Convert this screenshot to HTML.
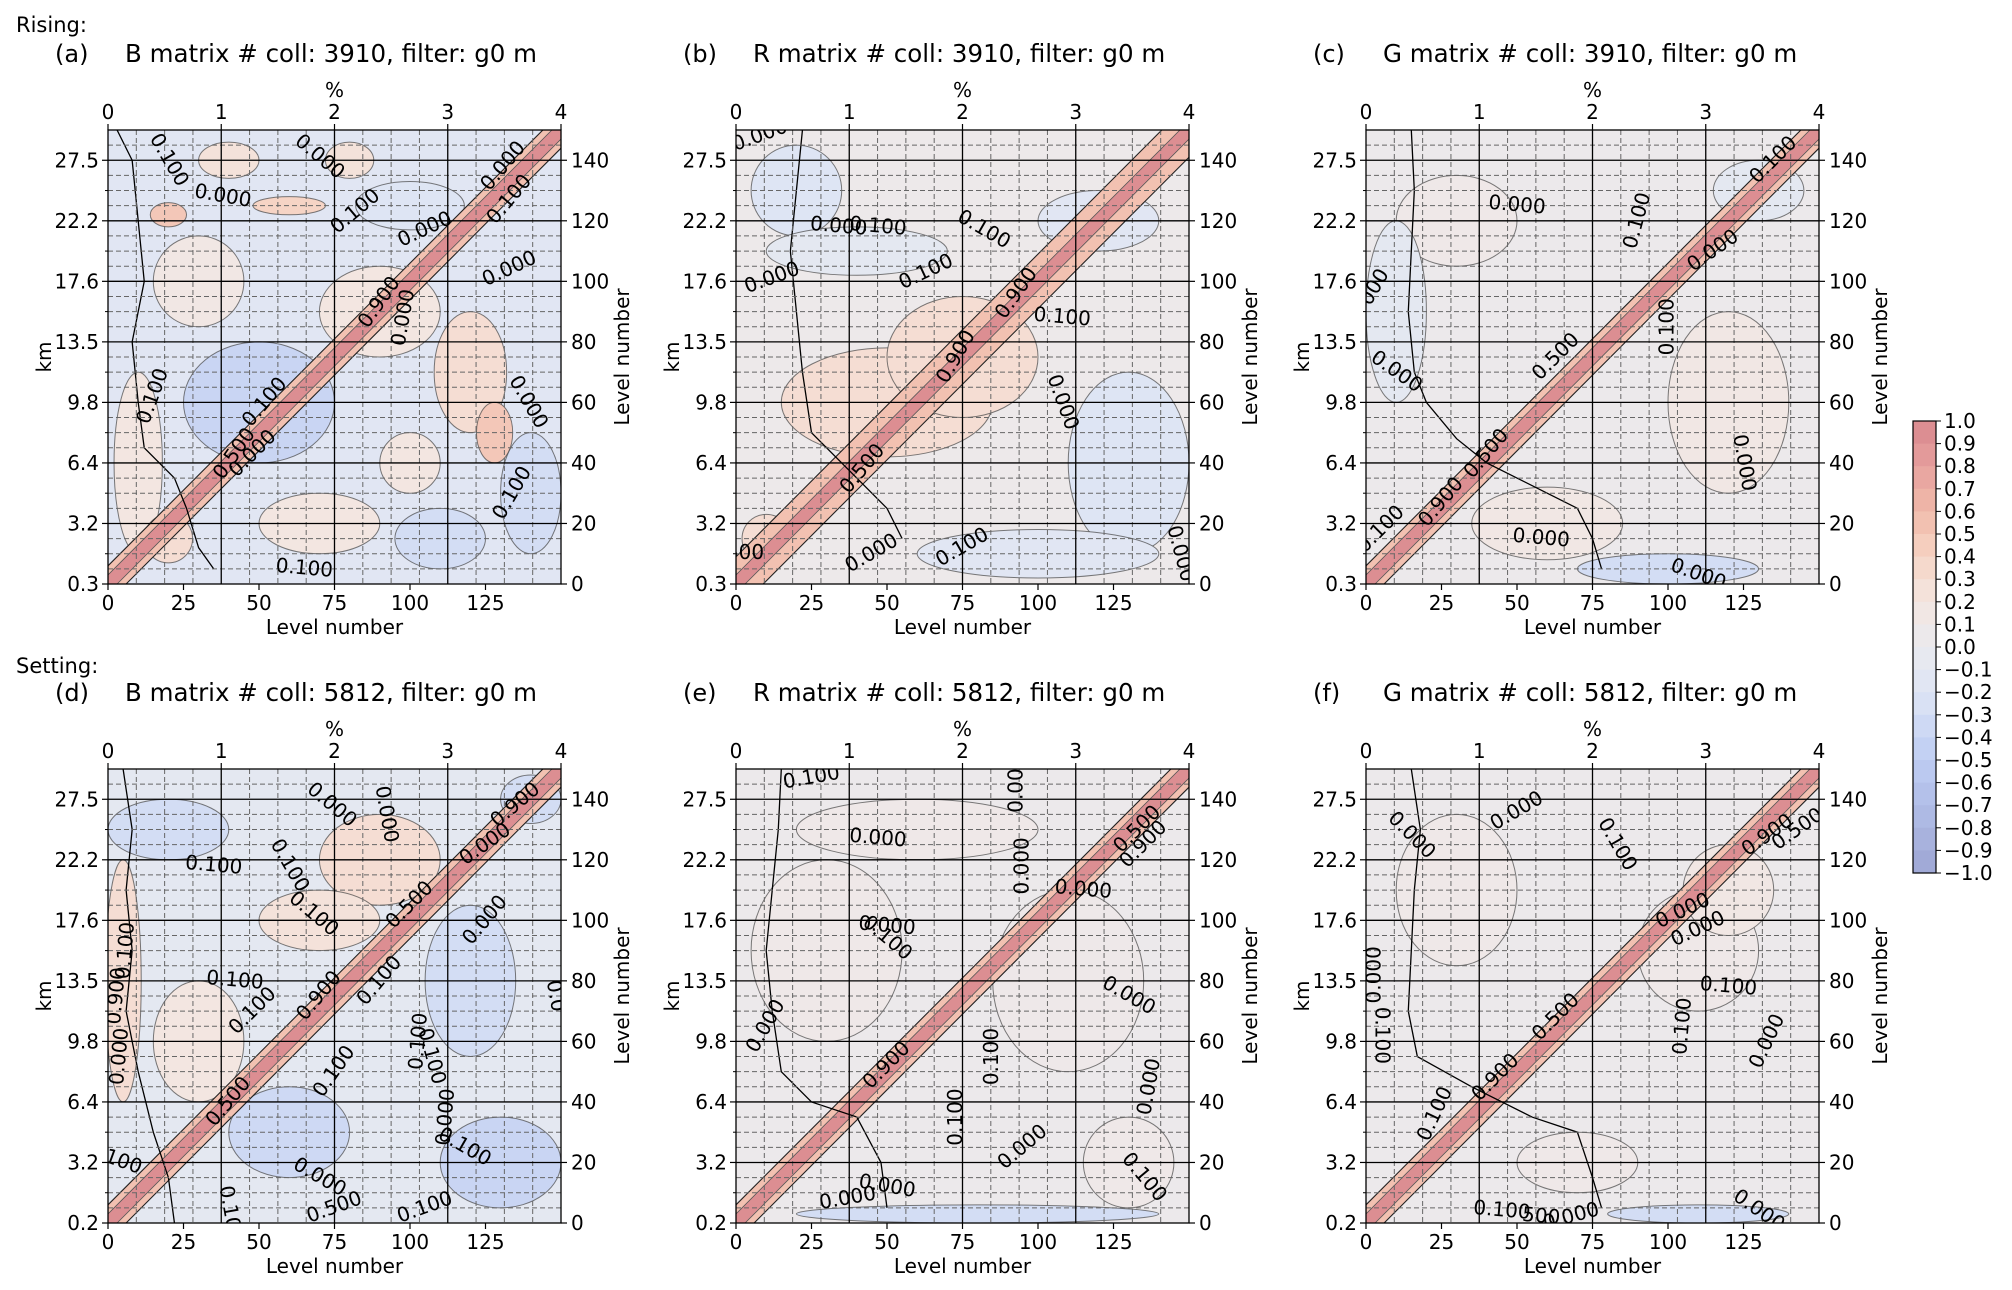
<!DOCTYPE html>
<html><head><meta charset="utf-8"><style>
html,body{margin:0;padding:0;background:#fff;}
svg{display:block;font-family:"DejaVu Sans","Liberation Sans",sans-serif;}
</style></head><body>
<svg id="fig" width="2012" height="1290" viewBox="0 0 2012 1290" xmlns="http://www.w3.org/2000/svg"></svg>
<script>
// ---- data ----
const panelIds = ["a","b","c","d","e","f"];
const panelTitles = ["B matrix # coll: 3910, filter: g0 m","R matrix # coll: 3910, filter: g0 m","G matrix  # coll: 3910, filter: g0 m",
 "B matrix # coll: 5812, filter: g0 m","R matrix # coll: 5812, filter: g0 m","G matrix  # coll: 5812, filter: g0 m"];
const kmLabelsRising = ["0.3","3.2","6.4","9.8","13.5","17.6","22.2","27.5"];
const kmLabelsSetting = ["0.2","3.2","6.4","9.8","13.5","17.6","22.2","27.5"];
const levelTicks = [0,20,40,60,80,100,120,140];
const bottomTicks = [0,25,50,75,100,125];
const pctTicks = [0,1,2,3,4];
const baseValues = [-0.15, 0.06, 0.04, -0.1, 0.05, 0.05];
const bandWidths = [3, 3, 3, 3, 3, 3];
const haloWidths = [6, 9, 6, 6, 6, 6];
// blobs: [x level, y level, rx, ry, value]
const blobsA = [[60,125,12,3,0.4],[20,122,6,4,0.5],[50,60,25,20,-0.4],[70,20,20,10,0.2],[120,70,12,20,0.3],[128,50,6,10,0.5],[10,40,8,30,0.2],[100,125,18,8,-0.2],[90,90,20,15,0.2],[140,30,10,20,-0.3],[30,100,15,15,0.15],[110,15,15,10,-0.3],[40,140,10,6,0.25],[80,140,8,6,0.25],[100,40,10,10,0.2],[20,15,8,8,0.3]];
const blobsB = [[50,60,35,18,0.3],[75,75,25,20,0.3],[130,40,20,30,-0.2],[20,130,15,15,-0.2],[120,120,20,10,-0.15],[10,15,8,8,0.3],[100,10,40,8,-0.15],[40,110,30,8,-0.1]];
const blobsC = [[30,120,20,15,0.1],[120,60,20,30,0.15],[60,20,25,12,0.15],[100,5,30,5,-0.3],[10,90,10,30,-0.1],[130,130,15,10,-0.1]];
const blobsD = [[20,130,20,10,-0.3],[60,30,20,15,-0.35],[120,80,15,25,-0.3],[90,120,20,15,0.3],[30,60,15,20,0.2],[130,20,20,15,-0.4],[70,100,20,10,0.25],[140,140,10,8,-0.3],[5,80,6,40,0.3]];
const blobsE = [[30,90,25,30,0.1],[110,80,25,30,0.08],[60,130,40,10,0.1],[80,3,60,3,-0.3],[130,20,15,15,0.1]];
const blobsF = [[30,110,20,25,0.1],[110,90,20,20,0.1],[70,20,20,10,0.1],[110,3,30,3,-0.3],[120,110,15,15,0.15]];
const panelBlobs = [blobsA,blobsB,blobsC,blobsD,blobsE,blobsF];
// black contour line near the left (levels): [x, y]
const lineA = [[3,150],[8,140],[10,120],[12,100],[8,80],[10,60],[12,45],[22,35],[26,25],[30,12],[35,5]];
const lineB = [[22,150],[20,130],[18,110],[20,90],[22,70],[25,50],[45,30],[50,25],[55,15]];
const lineC = [[15,150],[16,130],[15,110],[14,90],[16,70],[20,60],[30,48],[40,40],[60,30],[70,25],[75,15],[78,5]];
const lineD = [[5,150],[8,130],[6,110],[8,90],[6,70],[10,50],[15,30],[20,15],[22,0]];
const lineE = [[15,150],[14,130],[12,110],[10,90],[12,70],[15,50],[25,40],[40,35],[48,20],[50,5]];
const lineF = [[15,150],[18,130],[16,110],[15,90],[14,70],[17,55],[35,45],[55,35],[70,30],[75,15],[78,5]];
const panelLines = [lineA,lineB,lineC,lineD,lineE,lineF];
// contour labels: [x level, y level, rotation deg, text]
const labA = [[20,140,60,"0.100"],[70,141,40,"0.000"],[38,128,10,"0.000"],[82,123,-40,"0.100"],[105,117,-25,"0.000"],[131,138,-50,"0.000"],[133,127,-50,"0.100"],[133,104,-25,"0.000"],[98,88,-80,"0.000"],[90,93,-55,"0.900"],[15,62,-70,"0.100"],[52,60,-50,"0.100"],[42,43,-55,"0.500"],[48,43,-45,"0.000"],[139,60,60,"0.000"],[134,30,-60,"0.100"],[65,5,5,"0.100"]];
const labB = [[8,148,-20,"0.000"],[47,118,5,"0.100"],[34,118,5,"0.000"],[82,117,30,"0.100"],[63,103,-25,"0.100"],[12,101,-20,"0.000"],[93,96,-55,"0.900"],[73,75,-60,"0.900"],[108,88,5,"0.100"],[108,60,70,"0.000"],[42,38,-50,"0.500"],[45,10,-30,"0.000"],[75,12,-30,"0.100"],[3,10,0,"500"],[147,10,75,"0.000"]];
const labC = [[50,125,5,"0.000"],[90,120,-75,"0.100"],[115,110,-35,"0.000"],[135,140,-45,"0.100"],[3,98,-60,"000"],[10,70,35,"0.000"],[100,85,-90,"0.100"],[63,75,-45,"0.500"],[40,43,-50,"0.500"],[25,27,-50,"0.900"],[5,18,-45,"0.100"],[125,40,80,"0.000"],[58,15,5,"0.000"],[110,3,20,"0.000"]];
const labD = [[74,138,40,"0.000"],[92,135,80,"0.000"],[135,138,-40,"0.900"],[125,125,-35,"0.000"],[35,118,5,"0.100"],[60,118,60,"0.100"],[68,102,40,"0.100"],[100,105,-45,"0.500"],[125,100,-50,"0.000"],[6,90,-85,"0.100"],[3,75,-85,"0.900"],[42,80,5,"0.100"],[48,70,-45,"0.100"],[70,75,-50,"0.900"],[90,80,-50,"0.100"],[103,60,-85,"0.100"],[107,55,75,"0.100"],[75,50,-55,"0.100"],[112,35,-85,"0.000"],[118,25,30,"0.100"],[40,40,-50,"0.500"],[4,55,-85,"0.000"],[5,20,20,"100"],[70,15,30,"0.000"],[75,5,-20,"0.500"],[105,5,-20,"0.100"],[40,5,80,"0.10"],[148,75,80,"0.0"]];
const labE = [[25,147,-10,"0.100"],[47,127,5,"0.000"],[93,145,-90,"0.000"],[95,118,-90,"0.000"],[133,130,-45,"0.500"],[135,125,-45,"0.900"],[115,110,5,"0.000"],[50,98,5,"0.000"],[50,94,40,"0.100"],[130,75,30,"0.000"],[10,65,-60,"0.000"],[85,55,-90,"0.100"],[50,52,-45,"0.900"],[137,45,-80,"0.000"],[73,35,-90,"0.100"],[95,25,-40,"0.000"],[50,12,10,"0.000"],[37,8,-10,"0.000"],[135,15,50,"0.100"]];
const labF = [[50,136,-30,"0.000"],[15,128,45,"0.000"],[83,125,60,"0.100"],[133,128,-35,"0.900"],[143,130,-35,"0.500"],[105,103,-25,"0.000"],[110,97,-25,"0.000"],[120,78,5,"0.100"],[3,82,-90,"0.000"],[5,62,90,"0.100"],[105,65,-85,"0.100"],[133,60,-65,"0.000"],[63,68,-45,"0.500"],[43,48,-45,"0.900"],[23,36,-65,"0.100"],[45,4,5,"0.100"],[58,2,5,"500"],[68,2,-15,"0.000"],[130,4,35,"0.000"]];
const panelLabels = [labA,labB,labC,labD,labE,labF];
const cbTicks = ["1.0","0.9","0.8","0.7","0.6","0.5","0.4","0.3","0.2","0.1","0.0","−0.1","−0.2","−0.3","−0.4","−0.5","−0.6","−0.7","−0.8","−0.9","−1.0"];
const cbLevels = [1.0,0.9,0.8,0.7,0.6,0.5,0.4,0.3,0.2,0.1,0.0,-0.1,-0.2,-0.3,-0.4,-0.5,-0.6,-0.7,-0.8,-0.9];

// ---- rendering ----
const NS = "http://www.w3.org/2000/svg";
const svg = document.getElementById("fig");
function mk(tag, attrs, parent){const e=document.createElementNS(NS,tag);for(const k in attrs)e.setAttribute(k,attrs[k]);(parent||svg).appendChild(e);return e;}
function txt(x,y,s,size,anchor,parent,extra){const t=mk("text",Object.assign({x:x,y:y,"font-size":size,"text-anchor":anchor||"middle",fill:"#000"},extra||{}),parent);t.textContent=s;return t;}
function cmap(v){
  const stops=[[-1,[158,166,212]],[-0.5,[190,205,243]],[-0.2,[222,229,244]],[0,[234,234,238]],[0.2,[243,230,225]],[0.4,[246,212,197]],[0.6,[240,186,170]],[0.8,[230,160,158]],[1,[216,136,142]]];
  v=Math.max(-1,Math.min(1,v));
  for(let i=1;i<stops.length;i++){if(v<=stops[i][0]){const a=stops[i-1],b=stops[i];const t=(v-a[0])/(b[0]-a[0]);const c=a[1].map((q,j)=>Math.round(q+(b[1][j]-q)*t));return "rgb("+c.join(",")+")";}}
  return "rgb(216,136,142)";
}
const txt0 = mk("text",{x:16,y:32,"font-size":21,fill:"#000"});txt0.textContent="Rising:";


const txt1 = mk("text",{x:16,y:673,"font-size":21,fill:"#000"});txt1.textContent="Setting:";



const lefts=[108,736,1366], tops=[130,769], W=453, H=454;
panelIds.forEach((id,p)=>{
  const L=lefts[p%3], T=tops[Math.floor(p/3)], B=T+H, R=L+W;
  const xs=v=>L+v/150*W, ys=v=>B-v/150*H;
  const g=mk("g",{});
  
  
  const cid="clip"+id;
  const cp=mk("clipPath",{id:cid},g);mk("rect",{x:L,y:T,width:W,height:H},cp);
  const plot=mk("g",{"clip-path":"url(#"+cid+")"},g);
  
  
  mk("rect",{x:L,y:T,width:W,height:H,fill:cmap(baseValues[p])},plot);
  panelBlobs[p].forEach(b=>{
    const e=mk("ellipse",{cx:xs(b[0]),cy:ys(b[1]),rx:b[2]/150*W,ry:b[3]/150*H,fill:cmap(b[4]),stroke:"#444","stroke-width":1,"stroke-opacity":0.7},plot);
    
    
  });
  const hw=haloWidths[p], bw=bandWidths[p];
  const halo=mk("polygon",{points:[[xs(0),ys(0)],[xs(hw),ys(0)],[xs(150),ys(150-hw)],[xs(150),ys(150)],[xs(150-hw),ys(150)],[xs(0),ys(hw)]].map(q=>q.join(",")).join(" "),fill:cmap(0.55),stroke:"#222","stroke-width":1.1},plot);
  
  
  const band=mk("polygon",{points:[[xs(0),ys(0)],[xs(bw),ys(0)],[xs(150),ys(150-bw)],[xs(150),ys(150)],[xs(150-bw),ys(150)],[xs(0),ys(bw)]].map(q=>q.join(",")).join(" "),fill:cmap(0.95),stroke:"#555","stroke-width":0.8},plot);
  
  
  const pl=mk("polyline",{points:panelLines[p].map(q=>xs(q[0])+","+ys(q[1])).join(" "),fill:"none",stroke:"#000","stroke-width":1.3},plot);
  
  
  for(let v=5;v<150;v+=5){ if(v%20) mk("line",{x1:L,x2:R,y1:ys(v),y2:ys(v),stroke:"#666","stroke-width":1,"stroke-dasharray":"5,3"},plot);}
  for(let q=0.25;q<4;q+=0.25){ if(Math.abs(q-Math.round(q))>0.01) mk("line",{x1:L+q/4*W,x2:L+q/4*W,y1:T,y2:B,stroke:"#666","stroke-width":1,"stroke-dasharray":"5,3"},plot);}
  levelTicks.forEach(v=>{if(v>0)mk("line",{x1:L,x2:R,y1:ys(v),y2:ys(v),stroke:"#000","stroke-width":1.3},plot);});
  [1,2,3].forEach(q=>mk("line",{x1:L+q/4*W,x2:L+q/4*W,y1:T,y2:B,stroke:"#000","stroke-width":1.3},plot));
  panelLabels[p].forEach(l=>{
    const t=txt(xs(l[0]),ys(l[1]),l[3],20,"middle",plot,{transform:"rotate("+l[2]+" "+xs(l[0])+" "+ys(l[1])+")","dominant-baseline":"middle"});
    
    
  });
  mk("rect",{x:L,y:T,width:W,height:H,fill:"none",stroke:"#000","stroke-width":1.3},g);
  const kmL = p<3?kmLabelsRising:kmLabelsSetting;
  levelTicks.forEach((v,i)=>{
    mk("line",{x1:L-6,x2:L,y1:ys(v),y2:ys(v),stroke:"#000","stroke-width":1.2},g);
    mk("line",{x1:R,x2:R+6,y1:ys(v),y2:ys(v),stroke:"#000","stroke-width":1.2},g);
    const a=txt(L-9,ys(v)+7,kmL[i],20,"end",g);
    
    
    const b=txt(R+10,ys(v)+7,String(v),20,"start",g);
    
    
  });
  for(let v=10;v<150;v+=20){mk("line",{x1:L-3,x2:L,y1:ys(v),y2:ys(v),stroke:"#000"},g);}
  bottomTicks.forEach(v=>{
    mk("line",{x1:xs(v),x2:xs(v),y1:B,y2:B+6,stroke:"#000","stroke-width":1.2},g);
    const t=txt(xs(v),B+26,String(v),20,"middle",g);
    
    
  });
  pctTicks.forEach(q=>{
    mk("line",{x1:L+q/4*W,x2:L+q/4*W,y1:T-6,y2:T,stroke:"#000","stroke-width":1.2},g);
    const t=txt(L+q/4*W,T-11,String(q),20,"middle",g);
    
    
  });
  const xl=txt(L+W/2,B+50,"Level number",20,"middle",g);
  
  
  const pc=txt(L+W/2,T-33,"%",20,"middle",g);
  
  
  const yl=txt(0,0,"km",20,"middle",g,{transform:"translate("+(L-57)+","+(T+H/2)+") rotate(-90)"});
  
  
  const yr=txt(0,0,"Level number",20,"middle",g,{transform:"translate("+(R+68)+","+(T+H/2)+") rotate(-90)"});
  
  
  const pid=txt(L-53,T-68,"("+id+")",24,"start",g);
  
  
  const ti=txt(L+17,T-68,panelTitles[p],24.5,"start",g,{"xml:space":"preserve"});
  
  
});

const cbX=1913, cbW=23, cbT=421, cbB=873;
const cb=mk("g",{});


const step=(cbB-cbT)/cbLevels.length;
cbLevels.forEach((v,i)=>{
  const r=mk("rect",{x:cbX,y:cbT+i*step,width:cbW,height:step+0.5,fill:cmap(v-0.05)},cb);
  
  
});
mk("rect",{x:cbX,y:cbT,width:cbW,height:cbB-cbT,fill:"none",stroke:"#000","stroke-width":1.2},cb);
const tstep=(cbB-cbT)/(cbTicks.length-1);
cbTicks.forEach((s,i)=>{
  const y=cbT+i*tstep;
  mk("line",{x1:cbX+cbW,x2:cbX+cbW+5,y1:y,y2:y,stroke:"#000"},cb);
  const t=txt(cbX+cbW+8,y+7,s,20,"start",cb);
  
  
});
</script>
</body></html>
